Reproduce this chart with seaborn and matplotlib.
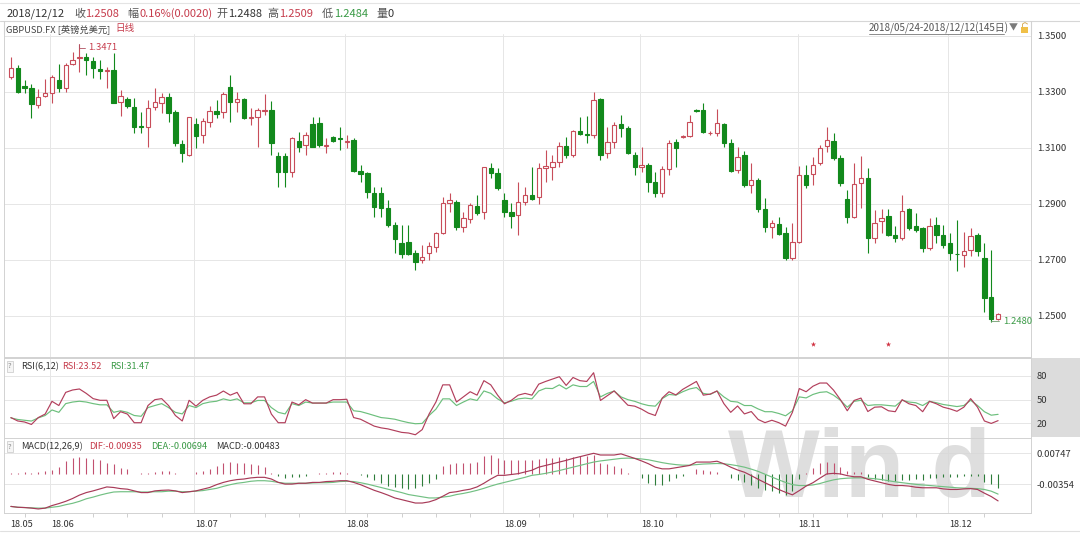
import numpy as np
import pandas as pd
import matplotlib
matplotlib.use("Agg")
import matplotlib.pyplot as plt
import matplotlib.transforms as mtransforms
from matplotlib.patches import Rectangle
from matplotlib.lines import Line2D
import seaborn as sns

# ---------------- data ----------------
start_date = "2018-05-24"
end_date = "2018-12-12"
symbol = "GBPUSD.FX"
symbol_name = "[英镑兑美元]"

open_ = [1.3354,1.3386,1.3321,1.3314,1.3254,1.3286,1.3296,1.3343,1.3314,1.3400,
         1.3421,1.3425,1.3411,1.3382,1.3375,1.3379,1.3264,1.3275,1.3246,1.3179,
         1.3175,1.3246,1.3261,1.3282,1.3229,1.3114,1.3075,1.3186,1.3146,1.3193,
         1.3232,1.3229,1.3318,1.3264,1.3275,1.3207,1.3211,1.3232,1.3236,1.3071,
         1.3071,1.3014,1.3125,1.3111,1.3186,1.3189,1.3107,1.3139,1.3136,1.3121,
         1.3129,1.3018,1.3011,1.2939,1.2939,1.2886,1.2825,1.2761,1.2764,1.2725,
         1.2700,1.2725,1.2746,1.2796,1.2904,1.2907,1.2818,1.2846,1.2893,1.2871,
         1.3029,1.3011,1.2914,1.2871,1.2861,1.2907,1.2932,1.2925,1.3029,1.3032,
         1.3050,1.3107,1.3075,1.3161,1.3150,1.3146,1.3275,1.3082,1.3121,1.3186,
         1.3171,1.3075,1.3032,1.3039,1.2979,1.2939,1.3025,1.3121,1.3139,1.3143,
         1.3236,1.3236,1.3152,1.3154,1.3186,1.3118,1.3021,1.3075,1.2968,1.2986,
         1.2882,1.2818,1.2829,1.2796,1.2707,1.2764,1.3004,1.3007,1.3046,1.3107,
         1.3125,1.3064,1.2918,1.2854,1.2975,1.2993,1.2779,1.2839,1.2857,1.2789,
         1.2779,1.2882,1.2821,1.2814,1.2743,1.2825,1.2789,1.2761,1.2723,1.2718,
         1.2736,1.2789,1.2707,1.2568,1.2488]
high = [1.3425,1.3396,1.3343,1.3329,1.3311,1.3346,1.3361,1.3400,1.3404,1.3443,
        1.3471,1.3439,1.3425,1.3414,1.3389,1.3439,1.3307,1.3282,1.3279,1.3229,
        1.3271,1.3314,1.3296,1.3296,1.3236,1.3129,1.3211,1.3207,1.3207,1.3250,
        1.3271,1.3300,1.3361,1.3300,1.3279,1.3243,1.3243,1.3293,1.3268,1.3086,
        1.3082,1.3139,1.3157,1.3157,1.3211,1.3211,1.3136,1.3143,1.3175,1.3146,
        1.3136,1.3039,1.3014,1.2961,1.2961,1.2914,1.2836,1.2825,1.2825,1.2736,
        1.2754,1.2764,1.2800,1.2925,1.2939,1.2914,1.2871,1.2904,1.2932,1.3032,
        1.3046,1.3029,1.2939,1.2904,1.2979,1.2961,1.3032,1.3046,1.3093,1.3075,
        1.3121,1.3139,1.3164,1.3211,1.3214,1.3300,1.3279,1.3175,1.3193,1.3218,
        1.3179,1.3086,1.3104,1.3046,1.3014,1.3036,1.3129,1.3132,1.3146,1.3218,
        1.3239,1.3261,1.3161,1.3239,1.3189,1.3132,1.3104,1.3089,1.3046,1.2993,
        1.2921,1.2843,1.2854,1.2818,1.2832,1.3036,1.3039,1.3068,1.3111,1.3175,
        1.3154,1.3075,1.2950,1.3046,1.3071,1.3029,1.2879,1.2882,1.2882,1.2821,
        1.2932,1.2886,1.2868,1.2818,1.2850,1.2854,1.2825,1.2796,1.2843,1.2800,
        1.2814,1.2796,1.2761,1.2736,1.2509]
low = [1.3346,1.3296,1.3296,1.3207,1.3243,1.3282,1.3261,1.3300,1.3300,1.3396,
       1.3371,1.3361,1.3350,1.3346,1.3314,1.3261,1.3214,1.3243,1.3154,1.3154,
       1.3104,1.3236,1.3225,1.3193,1.3107,1.3050,1.3071,1.3100,1.3118,1.3175,
       1.3207,1.3207,1.3193,1.3229,1.3204,1.3182,1.3104,1.3218,1.3075,1.2961,
       1.2961,1.2996,1.3086,1.3075,1.3104,1.3104,1.3082,1.3121,1.3093,1.3100,
       1.3014,1.2979,1.2921,1.2854,1.2854,1.2818,1.2725,1.2707,1.2718,1.2664,
       1.2689,1.2700,1.2729,1.2793,1.2871,1.2807,1.2800,1.2832,1.2861,1.2846,
       1.2993,1.2950,1.2854,1.2814,1.2789,1.2896,1.2914,1.2900,1.2979,1.2986,
       1.3032,1.3064,1.3068,1.3146,1.3118,1.3136,1.3057,1.3064,1.3100,1.3139,
       1.3079,1.3004,1.3014,1.2943,1.2925,1.2925,1.3004,1.3032,1.3136,1.3139,
       1.3229,1.3154,1.3146,1.3143,1.3104,1.3014,1.3011,1.2961,1.2939,1.2871,
       1.2800,1.2779,1.2789,1.2700,1.2700,1.2761,1.2957,1.2968,1.3039,1.3086,
       1.3057,1.2964,1.2832,1.2850,1.2886,1.2725,1.2761,1.2796,1.2786,1.2764,
       1.2771,1.2807,1.2800,1.2729,1.2736,1.2761,1.2743,1.2700,1.2661,1.2675,
       1.2714,1.2714,1.2514,1.2480,1.2484]
close = [1.3386,1.3300,1.3314,1.3257,1.3282,1.3296,1.3354,1.3314,1.3396,1.3414,
         1.3425,1.3414,1.3386,1.3375,1.3379,1.3261,1.3286,1.3250,1.3175,1.3175,
         1.3243,1.3264,1.3282,1.3225,1.3118,1.3082,1.3211,1.3143,1.3196,1.3232,
         1.3221,1.3293,1.3264,1.3275,1.3207,1.3211,1.3236,1.3236,1.3118,1.3014,
         1.3014,1.3136,1.3104,1.3146,1.3104,1.3111,1.3111,1.3125,1.3132,1.3125,
         1.3018,1.3007,1.2943,1.2889,1.2886,1.2825,1.2775,1.2721,1.2721,1.2693,
         1.2711,1.2750,1.2796,1.2904,1.2914,1.2818,1.2850,1.2896,1.2868,1.3032,
         1.3011,1.2957,1.2871,1.2857,1.2907,1.2932,1.2918,1.3029,1.3036,1.3050,
         1.3107,1.3075,1.3161,1.3150,1.3146,1.3271,1.3075,1.3121,1.3182,1.3171,
         1.3082,1.3032,1.3039,1.2979,1.2939,1.3025,1.3118,1.3100,1.3143,1.3193,
         1.3232,1.3157,1.3154,1.3189,1.3118,1.3018,1.3068,1.2968,1.2986,1.2882,
         1.2818,1.2832,1.2793,1.2707,1.2764,1.3004,1.2968,1.3039,1.3100,1.3129,
         1.3064,1.2975,1.2854,1.2971,1.2993,1.2779,1.2832,1.2850,1.2789,1.2779,
         1.2875,1.2814,1.2807,1.2743,1.2821,1.2789,1.2754,1.2725,1.2721,1.2732,
         1.2786,1.2732,1.2564,1.2488,1.2508]
volume = 0

rsi6 = [27.4,23.1,21.8,18.7,27.4,31.8,47.9,42.6,59.2,62.2,
        63.5,57.9,51.3,49.2,49.2,26.1,34.8,31.8,20.9,20.9,
        42.6,50.0,51.3,42.6,30.0,23.1,49.2,41.8,49.2,53.5,
        55.7,60.9,55.7,59.2,44.8,44.8,53.5,53.5,31.8,20.9,
        20.9,47.0,43.5,50.0,45.7,45.7,45.7,50.0,50.0,50.5,
        27.4,25.3,20.9,16.6,14.4,13.1,10.9,8.7,7.9,5.7,
        12.2,31.8,47.0,68.7,68.7,47.0,53.5,60.0,55.7,74.0,
        68.7,55.7,44.8,49.2,55.7,57.9,55.7,69.6,73.0,76.0,
        79.0,68.0,78.0,74.0,73.0,84.0,49.0,55.0,61.0,52.0,
        43.0,41.8,38.0,33.0,30.0,52.0,60.0,56.0,63.0,68.0,
        73.0,55.7,57.0,61.0,45.0,34.0,42.0,32.0,35.0,25.0,
        21.0,24.0,21.0,16.6,34.0,64.0,60.0,67.0,71.0,71.0,
        62.0,50.0,36.0,49.0,52.0,35.0,40.5,41.0,36.0,34.8,
        50.0,44.8,42.6,34.8,47.9,44.8,40.5,38.3,35.3,40.5,
        51.3,40.5,23.1,20.0,23.52]
rsi12 = [27,25,24,23,27,30,37,34,45,47,
         48,47,45,43.5,43.5,34,36,34,30,29,
         40,42.6,45,40,34,32,42.6,40,45,47,
         48,51,49,51,46,46,49,49,40,34,
         32,45,42.6,47,45.7,45.7,45.7,47,47,47,
         36,35,32.6,30,27.4,26.5,25.3,23,21,19.6,
         20,30,38,51,51,42.6,47,51,49,61,
         58,51,46,48,51,52,51,61,64.4,64,
         68.7,63.5,68.7,66.6,66.6,73,53.5,57.9,60.9,53.5,
         50,47.9,44.8,42.6,41.8,51.3,56.6,55.7,60,63.5,
         65.3,57.9,56.6,60.9,53.5,47.9,47,42.6,42.6,38.3,
         34.8,34.8,32.6,29.6,36,53.5,52.2,56.6,59.2,60,
         55.7,49.2,40.5,47.9,49.2,42.6,43.5,43.5,42.6,41.8,
         49.2,47,46.1,42.6,47.9,46.1,43.9,42.6,41.3,42.6,
         49.2,42.6,34.8,30.4,31.47]

dif = [-0.0113,-0.0116,-0.0117,-0.0119,-0.0122,-0.0119,-0.0110,-0.0103,-0.0095,-0.0085,
       -0.0073,-0.0064,-0.0058,-0.0051,-0.0044,-0.0046,-0.0050,-0.0052,-0.0058,-0.0064,
       -0.0064,-0.0058,-0.0056,-0.0055,-0.0058,-0.0064,-0.0061,-0.0058,-0.0052,-0.0046,
       -0.0036,-0.0028,-0.0022,-0.0018,-0.0016,-0.0012,-0.0010,-0.0010,-0.0016,-0.0028,
       -0.0034,-0.0034,-0.0031,-0.0031,-0.0028,-0.0028,-0.0025,-0.0024,-0.0022,-0.0022,
       -0.0028,-0.0036,-0.0046,-0.0056,-0.0064,-0.0073,-0.0083,-0.0089,-0.0095,-0.0101,
       -0.0101,-0.0097,-0.0089,-0.0077,-0.0064,-0.0061,-0.0056,-0.0052,-0.0044,-0.0031,
       -0.0016,-0.0003,-0.0003,0.0000,0.0003,0.0009,0.0015,0.0026,0.0032,0.0038,
       0.0044,0.0050,0.0057,0.0063,0.0069,0.0075,0.0069,0.0069,0.0069,0.0073,
       0.0065,0.0057,0.0048,0.0038,0.0026,0.0020,0.0020,0.0024,0.0028,0.0032,
       0.0044,0.0044,0.0044,0.0047,0.0038,0.0026,0.0016,0.0008,-0.0004,-0.0017,
       -0.0029,-0.0041,-0.0053,-0.0063,-0.0072,-0.0057,-0.0041,-0.0029,-0.0013,0.0002,
       0.0004,0.0002,-0.0004,-0.0008,-0.0008,-0.0017,-0.0023,-0.0029,-0.0035,-0.0039,
       -0.0039,-0.0041,-0.0045,-0.0047,-0.0047,-0.0047,-0.0051,-0.0053,-0.0053,-0.0051,
       -0.0050,-0.0053,-0.0066,-0.0078,-0.00935]
dea = [-0.0113,-0.0116,-0.0117,-0.0118,-0.0119,-0.0119,-0.0116,-0.0113,-0.0107,-0.0102,
       -0.0095,-0.0086,-0.0080,-0.0073,-0.0067,-0.0062,-0.0061,-0.0061,-0.0061,-0.0062,
       -0.0062,-0.0061,-0.0061,-0.0059,-0.0059,-0.0061,-0.0061,-0.0059,-0.0057,-0.0053,
       -0.0049,-0.0042,-0.0036,-0.0031,-0.0028,-0.0024,-0.0022,-0.0022,-0.0024,-0.0028,
       -0.0031,-0.0031,-0.0031,-0.0031,-0.0030,-0.0029,-0.0029,-0.0028,-0.0025,-0.0024,
       -0.0025,-0.0029,-0.0034,-0.0040,-0.0046,-0.0052,-0.0058,-0.0064,-0.0071,-0.0075,
       -0.0079,-0.0083,-0.0083,-0.0080,-0.0077,-0.0071,-0.0067,-0.0062,-0.0056,-0.0049,
       -0.0041,-0.0034,-0.0028,-0.0022,-0.0016,-0.0010,-0.0003,0.0000,0.0004,0.0009,
       0.0014,0.0020,0.0026,0.0032,0.0038,0.0044,0.0048,0.0051,0.0054,0.0057,
       0.0058,0.0057,0.0055,0.0052,0.0047,0.0042,0.0038,0.0035,0.0033,0.0033,
       0.0035,0.0037,0.0038,0.0039,0.0038,0.0035,0.0031,0.0026,0.0019,0.0011,
       0.0001,-0.0009,-0.0019,-0.0028,-0.0036,-0.0039,-0.0039,-0.0037,-0.0032,-0.0025,
       -0.0019,-0.0015,-0.0013,-0.0012,-0.0012,-0.0013,-0.0015,-0.0018,-0.0022,-0.0026,
       -0.0029,-0.0032,-0.0035,-0.0037,-0.0039,-0.0041,-0.0043,-0.0045,-0.0047,-0.0048,
       -0.0049,-0.0050,-0.0053,-0.0059,-0.00694]
macd_hist = [0.0005,0.0005,0.0008,0.0005,0.0008,0.0012,0.0015,0.0025,0.0049,0.0058,
             0.0061,0.0058,0.0055,0.0050,0.0042,0.0036,0.0024,0.0018,0.0003,0.0004,
             0.0006,0.0008,0.0012,0.0014,0.0004,0.0003,0.0003,0.0008,0.0014,0.0018,
             0.0030,0.0040,0.0045,0.0042,0.0040,0.0037,0.0033,0.0025,0.0006,-0.0006,
             -0.0012,-0.0010,-0.0008,-0.0004,0.0003,0.0005,0.0006,0.0010,0.0008,0.0006,
             0.0003,-0.0003,-0.0010,-0.0020,-0.0030,-0.0040,-0.0045,-0.0048,-0.0050,-0.0048,
             -0.0042,-0.0030,-0.0015,0.0030,0.0038,0.0040,0.0042,0.0042,0.0044,0.0066,
             0.0070,0.0058,0.0052,0.0050,0.0050,0.0050,0.0052,0.0055,0.0058,0.0060,
             0.0062,0.0060,0.0062,0.0064,0.0066,0.0068,0.0042,0.0036,0.0031,0.0024,
             0.0006,0.0003,-0.0014,-0.0029,-0.0038,-0.0036,-0.0022,-0.0011,-0.0004,0.0003,
             0.0018,0.0015,0.0012,0.0008,0.0002,-0.0011,-0.0019,-0.0027,-0.0036,-0.0048,
             -0.0054,-0.0060,-0.0066,-0.0072,-0.0060,-0.0015,0.0005,0.0022,0.0040,0.0045,
             0.0040,0.0025,0.0012,0.0010,0.0010,-0.0010,-0.0015,-0.0020,-0.0022,-0.0024,
             -0.0020,-0.0018,-0.0016,-0.0018,-0.0014,-0.0012,-0.0010,-0.0010,-0.0008,-0.0006,
             -0.0004,-0.0006,-0.0025,-0.0035,-0.00483]

event_dates = ["2018-11-05", "2018-11-20"]
price_ticks = [1.25, 1.27, 1.29, 1.31, 1.33, 1.35]
rsi_ticks = [20, 50, 80]
macd_ticks = [-0.00354, 0.00747]

# ---------------- frame ----------------
dates = pd.bdate_range(start_date, end_date)
n = len(dates)
xs = np.arange(n)
df = pd.DataFrame({"date": dates, "x": xs, "open": open_, "high": high,
                   "low": low, "close": close, "rsi6": rsi6, "rsi12": rsi12,
                   "dif": dif, "dea": dea, "hist": macd_hist})

sns.set_theme(style="white")
plt.rcParams["font.family"] = ["Noto Sans CJK SC", "DejaVu Sans"]
plt.rcParams["axes.unicode_minus"] = False

W, H = 1080, 533
fig = plt.figure(figsize=(W / 100, H / 100), dpi=100)
fig.patch.set_facecolor("white")


def frect(l, t, r, b):
    return [l / W, 1 - b / H, (r - l) / W, (b - t) / H]


ax = fig.add_axes(frect(4, 34, 1031, 357))
ax_r = fig.add_axes(frect(4, 358, 1031, 438), sharex=ax)
ax_m = fig.add_axes(frect(4, 438, 1031, 513), sharex=ax)

UP = "#c84d5a"
DN = "#12891c"
RED_T = "#c63c4c"
GRN_T = "#3a9a46"
GRID = "#e6e6e6"
SPINE = "#d2d2d2"
TXT = "#333333"

# ---------------- candles ----------------
up = df["close"] >= df["open"]
edge = np.where(up, UP, DN)
face = np.where(up, "white", DN)
ax.vlines(df["x"], df["low"], df["high"], colors=edge, linewidth=0.8, zorder=2)
body_bottom = np.minimum(df["open"], df["close"])
body_h = np.maximum((df["close"] - df["open"]).abs(), 0.00003)
ax.bar(df["x"], body_h, bottom=body_bottom, width=0.64, color=face,
       edgecolor=edge, linewidth=0.8, zorder=3)

# high / low annotations
hi_i = int(df["high"].idxmax())
lo_i = int(df["low"].idxmin())
ax.annotate(f"{df['high'].max():.4f}", xy=(hi_i, df["high"].max()),
            xytext=(8.5, -3.5), textcoords="offset pixels", ha="left", va="center",
            fontsize=6.8, color=RED_T,
            arrowprops=dict(arrowstyle="-", color="#b05060", lw=0.6, shrinkA=0, shrinkB=0,
                            connectionstyle="angle,angleA=0,angleB=90,rad=0"))
ax.annotate(f"{df['low'].min():.4f}", xy=(lo_i, df["low"].min()),
            xytext=(11.5, 0), textcoords="offset pixels", ha="left", va="center",
            fontsize=6.8, color=GRN_T,
            arrowprops=dict(arrowstyle="-", color="#6a9a6a", lw=0.6, shrinkA=0, shrinkB=0))

# event markers
bt = mtransforms.blended_transform_factory(ax.transData, ax.transAxes)
ev_idx = [dates.get_loc(pd.Timestamp(d)) for d in event_dates]
ax.scatter(ev_idx, [0.04] * len(ev_idx), transform=bt, marker="*", s=16,
           color="#d03040", linewidths=0, zorder=4)

# ---------------- RSI ----------------
sns.lineplot(data=df, x="x", y="rsi12", ax=ax_r, color="#6cbf7c", linewidth=0.85)
sns.lineplot(data=df, x="x", y="rsi6", ax=ax_r, color="#b23f5c", linewidth=0.85)

# ---------------- MACD ----------------
hcol = np.where(df["hist"] >= 0, "#c25170", "#2e7d3a")
ax_m.vlines(df["x"], 0, df["hist"], colors=hcol, linewidth=0.8, zorder=2)
sns.lineplot(data=df, x="x", y="dea", ax=ax_m, color="#72c083", linewidth=0.85)
sns.lineplot(data=df, x="x", y="dif", ax=ax_m, color="#a83a58", linewidth=0.85)

# ---------------- axes styling ----------------
ax.set_xlim(-1.0, 148.8)
ax.set_ylim(1.235357, 1.350714)
ax_r.set_ylim(1.6, 102.6)
ax_m.set_ylim(-0.01363, 0.01292)

month_first = df.groupby(df["date"].dt.to_period("M"))["x"].min().values
month_pos = month_first - 0.25
month_labels = [d.strftime("%y.%m") for d in dates[month_first]]

for a, ticks, labels in ((ax, price_ticks, [f"{v:.4f}" for v in price_ticks]),
                         (ax_r, rsi_ticks, [str(v) for v in rsi_ticks]),
                         (ax_m, macd_ticks, [f"{v:.5f}" for v in macd_ticks])):
    a.set_yticks(ticks, labels=labels)
    a.yaxis.tick_right()
    a.tick_params(axis="y", length=0, pad=4.3, labelsize=6.8, labelcolor=TXT)
    a.grid(axis="y", color=GRID, linewidth=0.7)
    a.grid(axis="x", visible=False)
    a.set_axisbelow(True)
    a.set_xlabel("")
    a.set_ylabel("")
    a.set_facecolor("white")
    for pos in month_pos[1:]:
        a.axvline(pos, color=GRID, linewidth=0.7, zorder=0.5)
    for s in a.spines.values():
        s.set_color(SPINE)
        s.set_linewidth(0.7)
ax.spines["top"].set_visible(False)

ax_m.set_xticks([])
mondays = [i for i, d in enumerate(dates)
           if d.weekday() == 0 and np.min(np.abs(month_pos - i)) > 2]
ax_m.set_xticks(mondays, minor=True)
ax_m.tick_params(axis="x", which="minor", bottom=True, length=3, width=0.6,
                 color="#c8c8c8", direction="out", labelbottom=False)
ax.tick_params(axis="x", which="both", bottom=False, labelbottom=False)
ax_r.tick_params(axis="x", which="both", bottom=False, labelbottom=False)

bm = mtransforms.blended_transform_factory(ax_m.transData, ax_m.transAxes)
for pos, lab in zip(month_pos, month_labels):
    ax_m.text(pos + 0.15, -(524.5 - 513) / 75, lab, transform=bm, ha="left", va="center",
              fontsize=6.6, color=TXT, clip_on=False)

# watermark
ax_m.text(728 / W, 1 - 497 / H, "Win.d", transform=fig.transFigure, fontsize=70,
          fontweight="bold", family=["Liberation Sans"], color="#d6d6d6", alpha=0.8,
          ha="left", va="baseline", zorder=0.6, clip_on=False)


# ---------------- header & labels ----------------
def ftext(xp, yp, s, color=TXT, size=8, **kw):
    fig.text(xp / W, 1 - yp / H, s, color=color, fontsize=size, va="center",
             ha="left", **kw)


last = df.iloc[-1]
prev_close = df["close"].iloc[-2]
chg = last["close"] - prev_close
pct = chg / prev_close * 100
hy = 13.8
ftext(7, hy, f"{last['date']:%Y/%m/%d}")
ftext(74, hy, "收", "#555555")
ftext(85.5, hy, f"{last['close']:.4f}", RED_T)
ftext(127, hy, "幅", "#555555")
ftext(140, hy, f"{pct:.2f}%({chg:.4f})", RED_T)
ftext(216.5, hy, "开", "#555555")
ftext(228, hy, f"{last['open']:.4f}")
ftext(267, hy, "高", "#555555")
ftext(279, hy, f"{last['high']:.4f}", RED_T)
ftext(322, hy, "低", "#555555")
ftext(334.5, hy, f"{last['low']:.4f}", GRN_T)
ftext(376, hy, "量", "#555555")
ftext(388, hy, f"{volume}")

ftext(6, 29, f"{symbol} {symbol_name}", "#444444", 6.7)
ftext(115.5, 29, "日线", RED_T, 6.9)

range_txt = f"{dates[0]:%Y/%m/%d}-{dates[-1]:%Y/%m/%d}({n}日)"
ftext(869, 28, range_txt, "#555555", 7.1)
fig.add_artist(Line2D([869 / W, 1004 / W], [1 - 33.8 / H] * 2, transform=fig.transFigure,
                      color="#777777", lw=0.6))
ftext(1008.5, 27.5, "▼", "#7a7a7a", 6.5)
fig.add_artist(Rectangle((1021 / W, 1 - 33 / H), 7 / W, 6 / H, transform=fig.transFigure,
                         facecolor="#f0c048", edgecolor="none"))
fig.add_artist(Line2D([1022.5 / W, 1022.5 / W, 1025 / W, 1027.5 / W],
                      [1 - 27 / H, 1 - 24 / H, 1 - 22.5 / H, 1 - 24 / H],
                      transform=fig.transFigure, color="#d8b060", lw=0.7))

# panel labels
qbox = dict(boxstyle="square,pad=0.2", fc="#f5f5f5", ec="#c8c8c8", lw=0.5)
fig.text(10 / W, 1 - 366.5 / H, "?", fontsize=5.5, color="#888888", ha="center",
         va="center", bbox=qbox)
ftext(20.7, 366.5, "RSI(6,12)", TXT, 6.6)
ftext(62, 366.5, f"RSI:{df['rsi6'].iloc[-1]:.2f}", RED_T, 6.6)
ftext(109.7, 366.5, f"RSI:{df['rsi12'].iloc[-1]:.2f}", GRN_T, 6.6)

fig.text(10 / W, 1 - 446.6 / H, "?", fontsize=5.5, color="#888888", ha="center",
         va="center", bbox=qbox)
ftext(20.7, 446.6, "MACD(12,26,9)", TXT, 6.6)
ftext(89, 446.6, f"DIF:{df['dif'].iloc[-1]:.5f}", RED_T, 6.6)
ftext(151, 446.6, f"DEA:{df['dea'].iloc[-1]:.5f}", GRN_T, 6.6)
ftext(216.5, 446.6, f"MACD:{df['hist'].iloc[-1]:.5f}", TXT, 6.6)

# gray label area of RSI panel and frame lines
fig.add_artist(Rectangle((1031.5 / W, 1 - 437 / H), 48.5 / W, 79 / H,
                         transform=fig.transFigure, facecolor="#dcdcdc",
                         edgecolor="none", zorder=-1))
for (x0, y0, x1, y1, c) in [(0, 3, W, 3, "#e4e4e4"), (0, 21, W, 21, "#d6d6d6"),
                            (4, 21, 4, 34, SPINE), (1031, 21, 1031, 34, SPINE),
                            (0, 531, W, 531, "#e0e0e0")]:
    fig.add_artist(Line2D([x0 / W, x1 / W], [1 - y0 / H, 1 - y1 / H],
                          transform=fig.transFigure, color=c, lw=0.8))

fig.savefig("out.png", dpi=100, facecolor="white")
